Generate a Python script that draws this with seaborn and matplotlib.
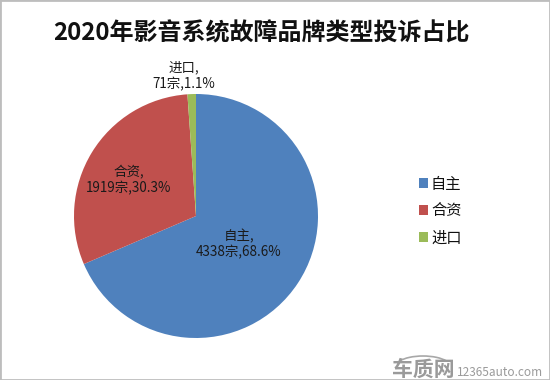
import matplotlib
matplotlib.use('Agg')
import matplotlib.pyplot as plt
from matplotlib.patches import Rectangle, Arc
import seaborn as sns

sns.set_theme(style='white')
plt.rcParams['font.family'] = ['Noto Sans CJK SC', 'DejaVu Sans']

categories = ['自主', '合资', '进口']
counts = [4338, 1919, 71]
shares = ['68.6%', '30.3%', '1.1%']
title = '2020年影音系统故障品牌类型投诉占比'
palette = sns.color_palette(['#4f81bd', '#c0504d', '#9bbb59'])

fig = plt.figure(figsize=(5.5, 3.8), dpi=100)
W, H = 550, 380

# pie box in pixels, center about (196, 216), radius 122
ax = fig.add_axes([74 / W, (380 - 338) / H, 244 / W, 244 / H])
wedges, texts = ax.pie(counts, colors=palette, startangle=90, counterclock=False,
                       wedgeprops={'edgecolor': 'none'},
                       labels=[f'{c},\n{n}宗,{s}' for c, n, s in zip(categories, counts, shares)],
                       textprops={'fontsize': 9.7, 'color': '#1a1a1a', 'linespacing': 1.2})
ax.set_xlim(-1, 1)
ax.set_ylim(-1, 1)

# labels do not sit at one distance from the centre
label_pos = [(0.35, -0.23), (-0.55, 0.295), (-0.098, 1.15)]
for t, p in zip(texts, label_pos):
    t.set_position(p)
    t.set_ha('center')
    t.set_va('center')
    t.set_clip_on(False)

fig.legend(wedges, categories, loc='center left', bbox_to_anchor=(405 / W, 1 - 211 / H),
           frameon=False, fontsize=11, handlelength=0.6, handleheight=0.6,
           handletextpad=0.2, labelspacing=0.64, labelcolor='#111111')

fig.text(261.5 / W, 1 - 33 / H, title, ha='center', va='center', fontsize=17.3,
         fontweight='bold', color='#111111')

# watermark
fig.text(423 / W, 1 - 369 / H, '车质网', ha='center', va='center', fontsize=15,
         fontweight='bold', color='#9a9a9a')
fig.text(499.5 / W, 1 - 372 / H, '12365auto.com', ha='center', va='center', fontsize=8.5,
         color='#9a9a9a')
fig.add_artist(Arc((423 / W, 1 - 367 / H), 56 / W, 22 / H, theta1=20, theta2=160,
                   transform=fig.transFigure, color='#a8a8a8', linewidth=1.2))

# grey frame of the picture
fig.add_artist(Rectangle((0, 0), 1, 1, transform=fig.transFigure, fill=False,
                         edgecolor='#bdbdbd', linewidth=2))

fig.savefig('out.png', dpi=100)
